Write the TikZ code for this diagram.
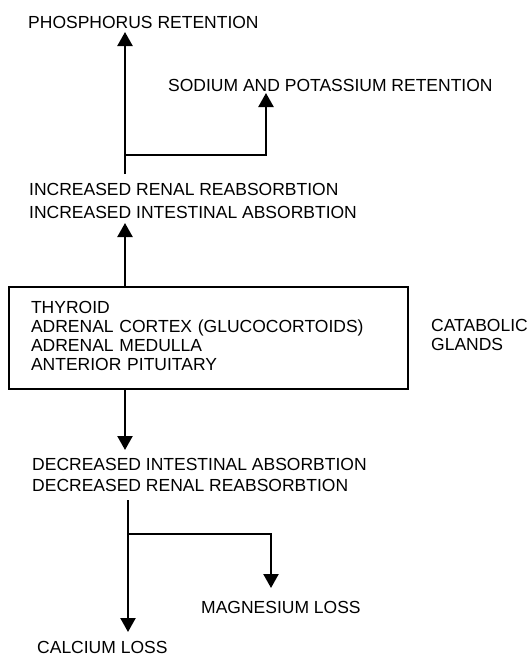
\documentclass[tikz,border=0pt]{standalone}
\usepackage{fontspec}
\setmainfont{Liberation Sans}
\usetikzlibrary{arrows.meta}
\begin{document}
\begin{tikzpicture}[x=1pt,y=-1pt,
  lbl/.style={inner sep=0pt, anchor=base west, font=\fontsize{17.5}{21}\selectfont},
  lbltwo/.style={inner sep=0pt, anchor=north west, align=left},
  arr/.style={line width=2.3pt, -{Triangle[width=15pt,length=14pt]}},
  boxst/.style={draw, line width=2.3pt, inner xsep=22pt, inner ysep=0pt, text width=355pt,
    minimum height=102pt, align=left, font=\fontsize{17.5}{19}\selectfont}]
\useasboundingbox (0,0) rectangle (532,657);

% labels
\node[lbl] (phos) at (28,28) {PHOSPHORUS RETENTION};
\node[lbl] (sod) at (168,91) {SODIUM AND POTASSIUM RETENTION};
\node[lbltwo, font=\fontsize{17.5}{22.5}\selectfont] (incr) at (29,183.5)
  {INCREASED RENAL REABSORBTION\\INCREASED INTESTINAL ABSORBTION};
\node[boxst] (box) at (208.5,338)
  {THYROID\\ADRENAL CORTEX (GLUCOCORTOIDS)\\ADRENAL MEDULLA\\ANTERIOR PITUITARY\rule[-5pt]{0pt}{5pt}};
\node[lbltwo, font=\fontsize{17.5}{18.5}\selectfont] (catab) at (431,319.5) {CATABOLIC\\GLANDS};
\node[lbltwo, font=\fontsize{17.5}{21}\selectfont] (decr) at (32,458.5)
  {DECREASED INTESTINAL ABSORBTION\\DECREASED RENAL REABSORBTION};
\node[lbl] (mag) at (201,613) {MAGNESIUM LOSS};
\node[lbl] (calc) at (37,653.5) {CALCIUM LOSS};

% connector points
\coordinate (upA) at (125,174);
\coordinate (upTip) at (125,32);
\coordinate (upJ) at (125,155);
\coordinate (naTip) at (266,93);
\coordinate (boxUpTip) at (125,223);
\coordinate (boxDnTip) at (125,450);
\coordinate (dnA) at (128,500);
\coordinate (dnTip) at (128,632);
\coordinate (dnJ) at (128,534);
\coordinate (mgTip) at (271,588);

% connectors
\draw[arr] (upA) -- (upTip);
\draw[arr] (upJ) -| (naTip);
\draw[arr] (box.north -| boxUpTip) -- (boxUpTip);
\draw[arr] (box.south -| boxDnTip) -- (boxDnTip);
\draw[arr] (dnA) -- (dnTip);
\draw[arr] (dnJ) -| (mgTip);
\end{tikzpicture}
\end{document}
